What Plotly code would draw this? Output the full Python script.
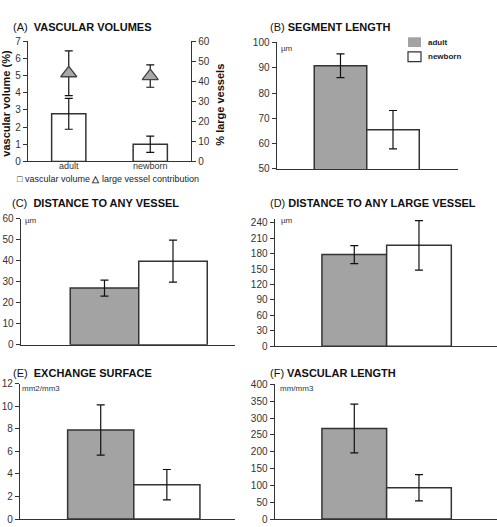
import plotly.graph_objects as go

W, H = 497, 527
groups = ["adult", "newborn"]

# Panel A
vol_mean = [2.77, 1.0]
vol_sd = [0.9, 0.47]
large_mean = [44.0, 42.6]
large_sd = [11.2, 5.6]
# Panel B
seg_mean = [90.8, 65.5]
seg_sd = [4.7, 7.6]
# Panel C
dist_mean = [27.0, 39.8]
dist_sd = [3.8, 10.0]
# Panel D
dlarge_mean = [178.0, 196.0]
dlarge_sd = [17.5, 48.0]
# Panel E
exch_mean = [7.9, 3.05]
exch_sd = [2.23, 1.35]
# Panel F
vlen_mean = [269.0, 93.0]
vlen_sd = [72.5, 39.0]

FONT = "Liberation Sans, Arial, sans-serif"
TFONT = "Liberation Sans, Arial, sans-serif"
LINE = "#333333"
GRAY = "#a3a3a3"

def px(x):
    return x / W

def py(y):
    return 1 - y / H

fig = go.Figure()

err = lambda sd: dict(type="data", array=sd, visible=True, color="#111111", thickness=1.2, width=4)

# Panel A bars
fig.add_trace(go.Bar(x=groups, y=vol_mean, error_y=err(vol_sd), width=0.42,
                     marker=dict(color="white", line=dict(color=LINE, width=1.5)),
                     xaxis="x", yaxis="y", showlegend=False))
fig.add_trace(go.Scatter(x=groups, y=large_mean, error_y=err(large_sd), mode="markers",
                         marker=dict(symbol="triangle-up", size=14, color="#a8a8a8",
                                     line=dict(color="#444444", width=1.3)),
                         xaxis="x", yaxis="y7", showlegend=False))

panels = [
    (2, seg_mean, seg_sd),
    (3, dist_mean, dist_sd),
    (4, dlarge_mean, dlarge_sd),
    (5, exch_mean, exch_sd),
    (6, vlen_mean, vlen_sd),
]
for k, mean, sd in panels:
    for i, (g, col) in enumerate(zip(groups, [GRAY, "white"])):
        fig.add_trace(go.Bar(x=[g], y=[mean[i]], error_y=err([sd[i]]), width=1.0,
                             marker=dict(color=col, line=dict(color=LINE, width=1.5)),
                             xaxis=f"x{k}", yaxis=f"y{k}", showlegend=False))

def yax(domain_px, rng, dtick, anchor, **kw):
    d = dict(domain=[py(domain_px[1]), py(domain_px[0])], range=rng, dtick=dtick,
             anchor=anchor, showline=True, linecolor=LINE, linewidth=1.3,
             ticks="outside", ticklen=4, tickcolor=LINE, tickwidth=1,
             showgrid=False, zeroline=False,
             tickfont=dict(family=TFONT, size=10, color="#333333"))
    d.update(kw)
    return d

def xax(domain_px, rng, anchor, **kw):
    d = dict(domain=[px(domain_px[0]), px(domain_px[1])], range=rng, anchor=anchor,
             type="category", showline=True, linecolor=LINE, linewidth=1.3,
             ticks="", showgrid=False, zeroline=False, showticklabels=False)
    d.update(kw)
    return d

layout = dict(
    width=W, height=H, margin=dict(l=0, r=0, t=0, b=0),
    paper_bgcolor="white", plot_bgcolor="white", showlegend=False,
    barmode="overlay",
    xaxis=xax((28, 191), [-0.5, 1.5], "y", showticklabels=True, ticklabelstandoff=-4,
              tickfont=dict(family=TFONT, size=9, color="#333333")),
    yaxis=yax((36, 159), [0, 7], 1, "x"),
    yaxis7=yax((36, 159), [0, 60], 10, "x", overlaying="y", side="right"),
    xaxis2=xax((276.7, 458), [-1.215, 2.238], "y2"),
    yaxis2=yax((37.3, 166.7), [50, 100], 10, "x2"),
    xaxis3=xax((20.7, 235), [-1.223, 1.905], "y3"),
    yaxis3=yax((217.7, 346.7), [0, 60], 10, "x3"),
    xaxis4=xax((274.7, 497), [-1.23, 2.206], "y4"),
    yaxis4=yax((218, 348.3), [0, 247], 30, "x4"),
    xaxis5=xax((20, 235), [-1.22, 2.03], "y5"),
    yaxis5=yax((386.7, 525), [0, 12], 2, "x5"),
    xaxis6=xax((274.7, 497), [-1.23, 2.206], "y6"),
    yaxis6=yax((387.3, 525), [0, 400], 50, "x6"),
)
fig.update_layout(**layout)

anns = []
def title(x, y, letter, text, gap="&nbsp;&nbsp;"):
    anns.append(dict(x=px(x), y=py(y), xref="paper", yref="paper", xanchor="left", yanchor="middle",
                     showarrow=False, text=f"({letter}){gap}<b>{text}</b>",
                     font=dict(family=FONT, size=11, color="#111111")))

title(11, 22, "A", "VASCULAR VOLUMES")
title(268, 22, "B", "SEGMENT LENGTH", " ")
title(10, 202, "C", "DISTANCE TO ANY VESSEL")
title(268, 202, "D", "DISTANCE TO ANY LARGE VESSEL", " ")
title(11, 376, "E", "EXCHANGE SURFACE")
title(268, 376, "F", "VASCULAR LENGTH", " ")

def unit(x, y, t):
    anns.append(dict(x=px(x), y=py(y), xref="paper", yref="paper", xanchor="left", yanchor="middle",
                     showarrow=False, text=t, font=dict(family=TFONT, size=8, color="#333333")))

unit(279, 43, "µm")
unit(23, 220, "µm")
unit(279, 220, "µm")
unit(20, 391, "mm2/mm3")
unit(278, 391, "mm/mm3")

anns.append(dict(x=px(6), y=py(100), xref="paper", yref="paper", textangle=-90, showarrow=False,
                 xanchor="center", yanchor="middle",
                 text="<b>vascular volume (%)</b>", font=dict(family=TFONT, size=11, color="#111111")))
anns.append(dict(x=px(220), y=py(101), xref="paper", yref="paper", textangle=-90, showarrow=False,
                 xanchor="center", yanchor="middle",
                 text="<b>% large vessels</b>", font=dict(family=TFONT, size=11, color="#111111")))
anns.append(dict(x=px(15), y=py(177), xref="paper", yref="paper", xanchor="left", yanchor="middle",
                 showarrow=False,
                 text="□ vascular volume <b>△</b> large vessel contribution",
                 font=dict(family=TFONT, size=9, color="#222222")))

# Legend for B
shapes = [
    dict(type="rect", xref="paper", yref="paper", x0=px(408), x1=px(421), y0=py(42), y1=py(32),
         fillcolor=GRAY, line=dict(width=0)),
    dict(type="rect", xref="paper", yref="paper", x0=px(408), x1=px(421), y0=py(57), y1=py(47),
         fillcolor="white", line=dict(color=LINE, width=1.2)),
]
anns.append(dict(x=px(426), y=py(37), xref="paper", yref="paper", xanchor="left", yanchor="middle",
                 showarrow=False, text="<b>adult</b>", font=dict(family=FONT, size=8, color="#222222")))
anns.append(dict(x=px(426), y=py(52), xref="paper", yref="paper", xanchor="left", yanchor="middle",
                 showarrow=False, text="<b>newborn</b>", font=dict(family=FONT, size=8, color="#222222")))

fig.update_layout(annotations=anns, shapes=shapes)
fig.write_html("out.html")
